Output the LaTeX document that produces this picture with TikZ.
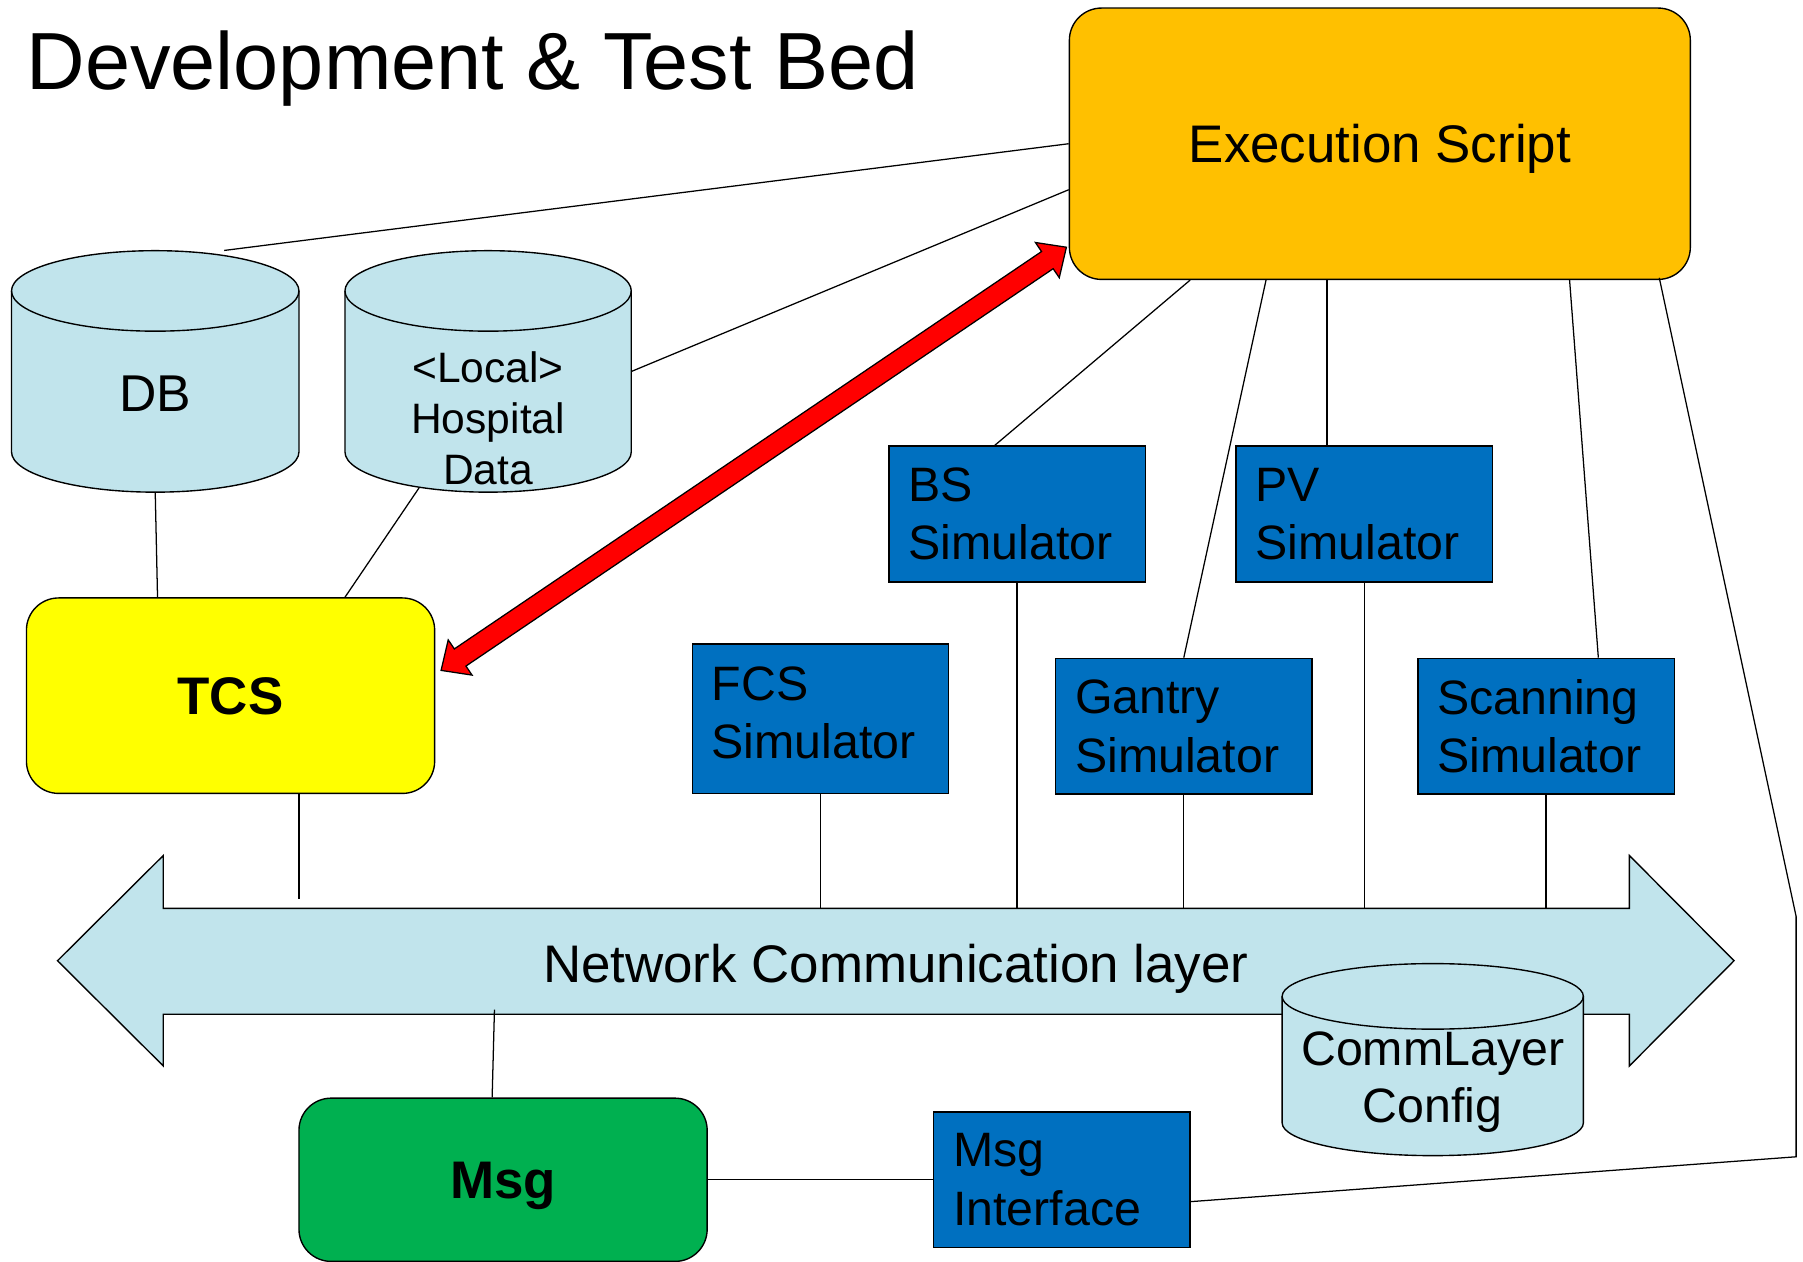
\documentclass[tikz,border=0pt]{standalone}
\usepackage{fontspec}
\setmainfont{Liberation Sans}
\usetikzlibrary{calc,positioning}

\definecolor{execorange}{HTML}{FFC000}
\definecolor{tcsyellow}{HTML}{FFFF00}
\definecolor{msggreen}{HTML}{00B050}
\definecolor{simblue}{HTML}{0070C0}
\definecolor{layerblue}{RGB}{193,228,236}

% drum: name, centre x, centre y, width, height, end radius
\newcommand{\drum}[6]{%
  \filldraw [line width=1.2pt,fill=layerblue]
    ({#2-#4/2},{#3-#5/2+#6}) -- ({#2-#4/2},{#3+#5/2-#6})
    arc [start angle=180,end angle=0,x radius={#4/2},y radius=#6]
    -- ({#2+#4/2},{#3-#5/2+#6})
    arc [start angle=0,end angle=-180,x radius={#4/2},y radius=#6] -- cycle ;
  \draw [line width=1.2pt] ({#2-#4/2},{#3-#5/2+#6})
    arc [start angle=180,end angle=0,x radius={#4/2},y radius=#6] ;
  \node [minimum width=#4,minimum height=#5] (#1) at (#2,#3) {} ;
}

\begin{document}
\begin{tikzpicture}[x=1pt,y=-1pt,
  every node/.style={inner sep=0pt},
  rbox/.style={draw,line width=1.2pt,rounded corners=28pt,
               minimum width=355,minimum height=170,
               text height=33pt,text depth=0pt,
               font=\bfseries\fontsize{46}{55}\selectfont},
  sim/.style={draw,line width=1.2pt,fill=simblue,minimum height=118,
              text width=189,inner xsep=17pt,align=left,
              font=\fontsize{42}{51}\selectfont},
  link/.style={line width=1.1pt}]
%
  \useasboundingbox (0,0) rectangle (1568,1097) ;
%
  \node [anchor=base west,font=\fontsize{70.5}{80}\selectfont] (title)
        at (23,78) {Development \& Test Bed} ;
%
  % network layer
  \filldraw [line width=1.2pt,fill=layerblue]
    (50,835.5) -- (142,744) -- (142,790) -- (1417,790) -- (1417,744)
    -- (1508,835.5) -- (1417,927) -- (1417,882) -- (142,882) -- (142,927)
    -- cycle ;
  \node [font=\fontsize{46}{55}\selectfont,text height=33pt,text depth=0pt]
        (net) at (779,838) {Network Communication layer} ;
  \coordinate (bustop) at (0,790) ;
  \coordinate (busbot) at (0,882) ;
%
  % data stores
  \drum{db}{135}{323}{250}{210}{35}
  \drum{hosp}{424.5}{323}{249}{210}{35}
  \drum{commcfg}{1246}{921.5}{262}{167}{28.5}
  \node [font=\fontsize{45}{54}\selectfont] (dbtext) at (135,342) {DB} ;
  \node [font=\fontsize{37}{44.5}\selectfont,align=center] (hosptext)
        at (424.5,364) {<Local>\\Hospital\\Data} ;
  \node [font=\fontsize{42}{50}\selectfont,align=center] (commtext)
        at (1246,941) {CommLayer\\Config} ;
%
  \node [rbox,fill=execorange,minimum width=540,minimum height=236,
         font=\fontsize{46}{55}\selectfont] (exec) at (1200,125)
        {Execution Script} ;
  \node [rbox,fill=tcsyellow] (tcs) at (200.5,605) {TCS} ;
  \node [rbox,fill=msggreen,minimum height=142] (msg) at (437.5,1026) {Msg} ;
%
  \node [sim] (bs)     at (884.5,447)   {BS\\Simulator} ;
  \node [sim] (pv)     at (1186.5,447)  {PV\\Simulator} ;
  \node [sim,minimum height=130] (fcs) at (713.5,625)
        {FCS\\Simulator\vspace{10pt}} ;
  \node [sim] (gantry) at (1029.5,631.5) {Gantry\\Simulator} ;
  \node [sim] (scan)   at (1344.5,631.5) {Scanning\\Simulator} ;
  \node [sim] (msgif)  at (923.5,1026)  {Msg\\Interface} ;
%
  % script links
  \draw [link] (exec.west) -- ([xshift=60]db.north) ;
  \draw [link] ([yshift=-40]exec.west) -- (hosp.east) ;
  \draw [link] ([xshift=-165]exec.south) -- ([xshift=-19.5]bs.north) ;
  \draw [link] ([xshift=-99]exec.south) -- (gantry.north) ;
  \draw [link] ([xshift=-46]exec.south) -- ([xshift=-32.5]pv.north) ;
  \draw [link] ([xshift=165]exec.south) -- ([xshift=45.5]scan.north) ;
  \coordinate (bend1) at (1562,797) ;
  \coordinate (bend2) at (1562,1006) ;
  \draw [link] ([xshift=243,yshift=2]exec.south) -- (bend1) -- (bend2)
        -- ([yshift=-19]msgif.east) ;
%
  \draw [link] (db.south) -- ([xshift=-63.5]tcs.north) ;
  \draw [link] ([xshift=-60,yshift=4]hosp.south) -- ([xshift=99.5]tcs.north) ;
%
  % bus links
  \draw [link] ([xshift=59.5]tcs.south)
        -- ([xshift=59.5,yshift=8]tcs.south |- bustop) ;
  \foreach \blk in {fcs,bs,gantry,pv,scan}
    \draw [link] (\blk.south) -- (\blk.south |- bustop) ;
  \draw [link] ([xshift=-7.5,yshift=4]msg.north |- busbot)
        -- ([xshift=-9.5]msg.north) ;
  \draw [link] (msg.east) -- (msgif.west) ;
%
  % red double arrow
  \coordinate (ra) at ([xshift=5,yshift=22]tcs.east) ;
  \coordinate (rb) at ([xshift=-2,yshift=-90]exec.west) ;
  \coordinate (ra1) at ($(ra)!20pt!(rb)$) ;
  \coordinate (rb1) at ($(rb)!20pt!(ra)$) ;
  \filldraw [line width=1.1pt,fill=red]
    (ra) -- ($(ra1)!18.5pt!90:(rb)$) -- ($(ra1)!9pt!90:(rb)$)
    -- ($(rb1)!9pt!90:(rb)$) -- ($(rb1)!18.5pt!90:(rb)$) -- (rb)
    -- ($(rb1)!18.5pt!-90:(rb)$) -- ($(rb1)!9pt!-90:(rb)$)
    -- ($(ra1)!9pt!-90:(rb)$) -- ($(ra1)!18.5pt!-90:(rb)$) -- cycle ;
\end{tikzpicture}
\end{document}
